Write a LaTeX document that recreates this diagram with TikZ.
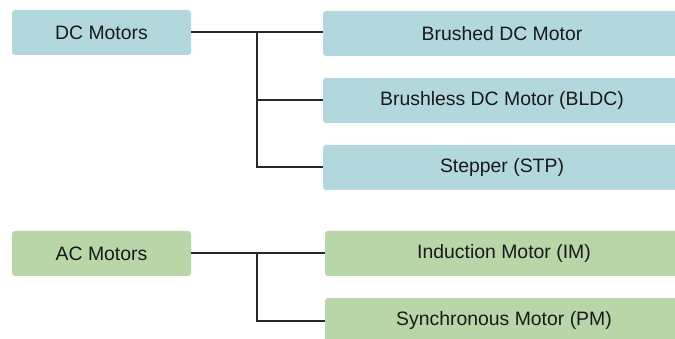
\documentclass[tikz,border=0pt]{standalone}
\usepackage{fontspec}
\setmainfont{Liberation Sans}
\usepackage{xcolor}
\usepackage{tikz}
\usetikzlibrary{positioning}

\definecolor{dcblue}{RGB}{178,216,222}
\definecolor{acgreen}{RGB}{184,214,168}
\definecolor{linegray}{RGB}{40,40,40}

\begin{document}
\begin{tikzpicture}[x=1pt, y=-1pt,
    group/.style={rounded corners=3pt, minimum width=179pt, minimum height=45pt, inner sep=0pt, font=\fontsize{19.4}{21}\selectfont, text=black!90},
    kind/.style={rounded corners=3pt, minimum width=358pt, minimum height=45pt, inner sep=0pt, font=\fontsize{19.4}{21}\selectfont, text=black!90},
    link/.style={draw=linegray, line width=2pt}]
\clip (0,0) rectangle (675,339);
\fill[white] (0,0) rectangle (675,339);
% DC motors
\node[group, fill=dcblue] (dc) at (101.5,32.5) {DC Motors};
\node[kind, fill=dcblue] (brushed) at (502,33.5) {Brushed DC Motor};
\node[kind, fill=dcblue] (bldc) at (502,100.5) {Brushless DC Motor (BLDC)};
\node[kind, fill=dcblue] (stp) at (502,167.5) {Stepper (STP)};
\coordinate (jdc) at (257,33);
\draw[link] (dc.east) -- (dc.east -| brushed.west);
\draw[link] (jdc) |- (bldc.west);
\draw[link] (jdc) |- (stp.west);
% AC motors
\node[group, fill=acgreen] (ac) at (101.5,253.5) {AC Motors};
\node[kind, fill=acgreen] (im) at (504,253.5) {Induction Motor (IM)};
\node[kind, fill=acgreen] (pm) at (504,320.5) {Synchronous Motor (PM)};
\coordinate (jac) at (257,253.5);
\draw[link] (ac.east) -- (im.west);
\draw[link] (jac) |- (pm.west);
\end{tikzpicture}
\end{document}
